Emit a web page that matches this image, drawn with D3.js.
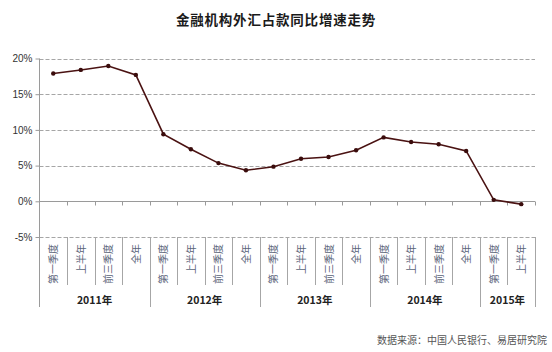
<!DOCTYPE html>
<html>
<head>
<meta charset="utf-8">
<script src="https://cdn.jsdelivr.net/npm/d3@7"></script>
<style>
  body { margin: 0; background: #fff; }
  svg { display: block; font-family: "Noto Sans CJK SC", "Noto Sans", sans-serif; }
</style>
</head>
<body>
<svg width="552" height="352"></svg>
<script>
const title = '金融机构外汇占款同比增速走势'
const source = '数据来源：中国人民银行、易居研究院'
const periodLabels = [
  '第一季度', '上半年', '前三季度', '全年',
  '第一季度', '上半年', '前三季度', '全年',
  '第一季度', '上半年', '前三季度', '全年',
  '第一季度', '上半年', '前三季度', '全年',
  '第一季度', '上半年'
]
const periodYears = [
  '2011年', '2011年', '2011年', '2011年',
  '2012年', '2012年', '2012年', '2012年',
  '2013年', '2013年', '2013年', '2013年',
  '2014年', '2014年', '2014年', '2014年',
  '2015年', '2015年'
]
const growth = [17.9, 18.4, 18.95, 17.7, 9.4, 7.3, 5.35, 4.35, 4.85, 5.95, 6.2, 7.15, 8.95, 8.3, 8.0, 7.05, 0.2, -0.4]
const yTicks = [-5, 0, 5, 10, 15, 20]

const svg = d3.select('svg')
const left = 39.5
const right = 535
const labelBottom = 285
const axisBottom = 307

const x = d3.scaleBand()
  .domain(d3.range(growth.length))
  .range([left, right])

const y = d3.scaleLinear()
  .domain([-5, 20])
  .range([237, 58.5])

// title
svg.append('text')
  .attr('x', 276)
  .attr('y', 25)
  .attr('text-anchor', 'middle')
  .attr('font-size', 13.5)
  .attr('font-weight', 'bold')
  .attr('letter-spacing', 0.8)
  .attr('fill', '#1a1a1a')
  .text(title)

// gridlines
svg.selectAll('line.grid').data(yTicks.filter(d => d !== 0))
  .enter().append('line')
  .attr('class', 'grid')
  .attr('x1', left).attr('x2', right)
  .attr('y1', d => Math.round(y(d)) + 0.5)
  .attr('y2', d => Math.round(y(d)) + 0.5)
  .attr('stroke', '#a6a6a6')
  .attr('stroke-dasharray', '4,2')

// y axis
const yAxis = d3.axisLeft(y)
  .tickValues(yTicks)
  .tickSize(4)
  .tickFormat(d => `${d}%`)

const gy = svg.append('g')
  .attr('transform', `translate(${left},0)`)
  .call(yAxis)
gy.select('.domain').remove()
gy.selectAll('.tick line').attr('stroke', '#9a9a9a')
gy.selectAll('.tick text')
  .attr('font-size', 10)
  .attr('fill', '#333')
  .attr('font-family', '"Liberation Sans", "Noto Sans", sans-serif')

svg.append('line')
  .attr('x1', left).attr('x2', left)
  .attr('y1', y(20)).attr('y2', axisBottom)
  .attr('stroke', '#9a9a9a')

// zero line with tick marks
const zeroY = Math.round(y(0)) + 0.5
svg.append('line')
  .attr('x1', left).attr('x2', right)
  .attr('y1', zeroY).attr('y2', zeroY)
  .attr('stroke', '#9a9a9a')

const bounds = d3.range(growth.length + 1).map(i => i < growth.length ? x(i) : right)
svg.selectAll('line.xtick').data(bounds.slice(1))
  .enter().append('line')
  .attr('class', 'xtick')
  .attr('x1', d => Math.round(d) + 0.5).attr('x2', d => Math.round(d) + 0.5)
  .attr('y1', zeroY).attr('y2', zeroY + 4)
  .attr('stroke', '#9a9a9a')

// category separators below -5%
const yearStart = (i) => i === 0 || periodYears[i] !== periodYears[i - 1]
svg.selectAll('line.sep').data(bounds.slice(1))
  .enter().append('line')
  .attr('class', 'sep')
  .attr('x1', d => Math.round(d) + 0.5).attr('x2', d => Math.round(d) + 0.5)
  .attr('y1', y(-5))
  .attr('y2', (d, i) => (i + 1 === growth.length || yearStart(i + 1)) ? axisBottom : labelBottom)
  .attr('stroke', '#a6a6a6')

// category labels
svg.selectAll('text.cat').data(periodLabels)
  .enter().append('text')
  .attr('class', 'cat')
  .attr('transform', (d, i) => `translate(${x(i) + x.bandwidth() / 2 + 4},${y(-5) + 7}) rotate(-90)`)
  .attr('text-anchor', 'end')
  .attr('font-size', 10)
  .attr('fill', '#5a6478')
  .text(d => d)

// year labels
const years = Array.from(new Set(periodYears))
svg.selectAll('text.year').data(years)
  .enter().append('text')
  .attr('class', 'year')
  .attr('x', yr => {
    const idx = periodYears.map((p, i) => p === yr ? i : -1).filter(i => i >= 0)
    return (x(idx[0]) + x(idx[idx.length - 1]) + x.bandwidth()) / 2
  })
  .attr('y', 304)
  .attr('text-anchor', 'middle')
  .attr('font-size', 10.5)
  .attr('font-weight', 'bold')
  .attr('fill', '#222')
  .text(d => d)

// line
const line = d3.line()
  .x((d, i) => x(i) + x.bandwidth() / 2)
  .y(d => y(d))

svg.append('path')
  .datum(growth)
  .attr('d', line)
  .attr('fill', 'none')
  .attr('stroke', '#4a1212')
  .attr('stroke-width', 1.6)

svg.selectAll('circle.pt').data(growth)
  .enter().append('circle')
  .attr('class', 'pt')
  .attr('cx', (d, i) => x(i) + x.bandwidth() / 2)
  .attr('cy', d => y(d))
  .attr('r', 2.2)
  .attr('fill', '#3a0c0c')

// source
svg.append('text')
  .attr('x', 547)
  .attr('y', 344)
  .attr('text-anchor', 'end')
  .attr('font-size', 10)
  .attr('fill', '#555')
  .text(source)
</script>
</body>
</html>
